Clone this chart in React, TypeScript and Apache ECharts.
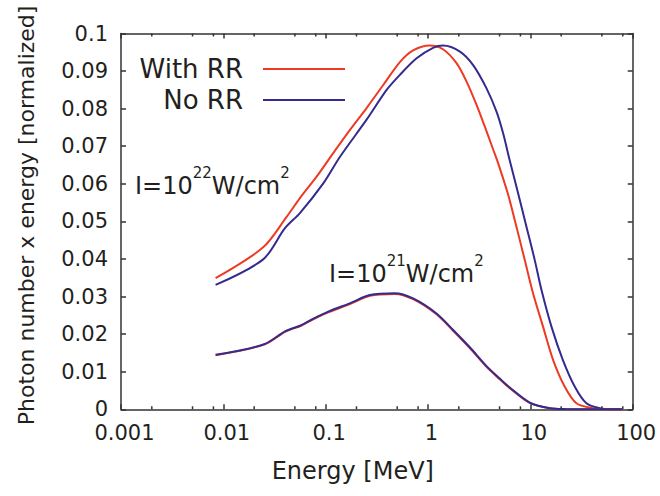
import { useEffect, useRef } from "react";
import * as echarts from "echarts";

// ---- data ----
const xTickLabels = ["0.001", "0.01", "0.1", "1", "10", "100"];
const yTickLabels = ["0", "0.01", "0.02", "0.03", "0.04", "0.05", "0.06", "0.07", "0.08", "0.09", "0.1"];
const xMinorTicks = [0.002, 0.005, 0.008, 0.02, 0.05, 0.08, 0.2, 0.5, 0.8, 2, 5, 8, 20, 50, 80];
const seriesNames = ["With RR", "No RR"];

// I = 1e22 W/cm^2, with radiation reaction
const energyHighRR = [0.0084, 0.0245, 0.0415, 0.056, 0.0815, 0.118, 0.172, 0.25, 0.365, 0.531, 0.715, 1.04, 1.4, 1.9, 2.38, 2.98, 3.59, 4.32, 4.84, 6.05, 7.31, 8.82, 10.62, 13.3, 16.7, 21.7, 28.2, 40.6, 55, 78];
const valueHighRR = [0.0349, 0.0431, 0.0512, 0.0562, 0.0619, 0.0681, 0.0743, 0.0801, 0.0863, 0.0924, 0.0955, 0.0968, 0.0958, 0.0921, 0.0872, 0.081, 0.0752, 0.0692, 0.0655, 0.0572, 0.0486, 0.0397, 0.0309, 0.022, 0.0131, 0.006, 0.0016, 0.0003, 0, 0];

// I = 1e22 W/cm^2, without radiation reaction
const energyHighNoRR = [0.0084, 0.0245, 0.04, 0.056, 0.0947, 0.138, 0.25, 0.394, 0.531, 0.773, 1.12, 1.4, 2.05, 2.76, 3.73, 4.67, 5.41, 6.29, 7.59, 9.16, 11.04, 12.83, 16.07, 20.8, 27.2, 35.3, 47.6, 60, 78];
const valueHighNoRR = [0.0331, 0.0399, 0.0482, 0.0522, 0.0601, 0.0672, 0.077, 0.085, 0.089, 0.0934, 0.0962, 0.0968, 0.0952, 0.0916, 0.0854, 0.0792, 0.0735, 0.0662, 0.0575, 0.0486, 0.0397, 0.0318, 0.022, 0.0131, 0.006, 0.0016, 0.0003, 0, 0];

// I = 1e21 W/cm^2 (both curves almost identical)
const energyLow = [0.0084, 0.025, 0.0405, 0.058, 0.077, 0.106, 0.172, 0.27, 0.474, 0.715, 1.21, 1.76, 2.56, 3.73, 5.02, 6.29, 9.86, 15.5, 22, 78];
const valueLowRR = [0.0144, 0.0172, 0.0207, 0.0223, 0.0241, 0.0258, 0.028, 0.0302, 0.0307, 0.0293, 0.0253, 0.0209, 0.0163, 0.0113, 0.008, 0.0056, 0.0017, 0.0003, 0.0001, 0];
const valueLowNoRR = [0.0145, 0.0173, 0.0208, 0.0224, 0.0242, 0.026, 0.0282, 0.0304, 0.0309, 0.0295, 0.0255, 0.0211, 0.0165, 0.0115, 0.0082, 0.0058, 0.0018, 0.0003, 0.0001, 0];

const zip = (xs: number[], ys: number[]) => xs.map((x, i) => [x, ys[i]]);

const FONT = "DejaVu Sans";
const AX = "#333333";
const TXT = "#231f20";
const RED = "#ee3a22";
const BLUE = "#342b8e";

export default function App() {
  const ref = useRef<HTMLDivElement>(null);
  useEffect(() => {
    document.body.style.margin = "0";
    if (!ref.current) return;
    const chart = echarts.init(ref.current, undefined, { renderer: "svg" });

    const lineSeries = (name: string, data: number[][], color: string) => ({
      type: "line",
      name,
      data,
      symbol: "none",
      showSymbol: false,
      smooth: 0.3,
      lineStyle: { color, width: 2 },
      itemStyle: { color },
      xAxisIndex: 0,
      yAxisIndex: 0,
      z: 4,
    });

    const axisCommon = {
      axisLine: { show: true, onZero: false, lineStyle: { color: AX, width: 1.5 } },
      axisTick: { show: true, inside: true, length: 5, lineStyle: { color: AX, width: 1.5 } },
      splitLine: { show: false },
    };

    const option: any = {
      animation: false,
      backgroundColor: "#ffffff",
      textStyle: { fontFamily: FONT },
      grid: { left: 121, right: 27.3, top: 33.5, bottom: 86.7, containLabel: false, outerBoundsMode: "none" },
      legend: {
        data: seriesNames,
        orient: "vertical",
        align: "right",
        right: 315,
        top: 48.5,
        padding: 0,
        itemGap: -10,
        itemWidth: 82,
        itemHeight: 2,
        icon: "rect",
        selectedMode: false,
        textStyle: { fontSize: 26, fontFamily: FONT, color: TXT, lineHeight: 25, padding: [0, 15, 16, 0] },
      },
      xAxis: [
        {
          type: "log",
          logBase: 10,
          min: 0.001,
          max: 100,
          position: "bottom",
          ...axisCommon,
          axisLabel: {
            fontSize: 21,
            fontFamily: FONT,
            color: TXT,
            margin: 13,
            padding: [0, 0, 0, 7],
            formatter: (v: number) => xTickLabels[Math.round(Math.log10(v)) + 3],
          },
          name: "Energy [MeV]",
          nameLocation: "middle",
          nameGap: 50,
          nameTextStyle: { fontSize: 24, fontFamily: FONT, color: TXT, padding: [0, 48, 0, 0] },
        },
        {
          type: "log",
          logBase: 10,
          min: 0.001,
          max: 100,
          position: "top",
          ...axisCommon,
          axisLabel: { show: false },
        },
      ],
      yAxis: [
        {
          type: "value",
          min: 0,
          max: 0.1,
          interval: 0.01,
          position: "left",
          ...axisCommon,
          axisLabel: {
            fontSize: 21,
            fontFamily: FONT,
            color: TXT,
            margin: 13,
            formatter: (v: number) => yTickLabels[Math.round(v / 0.01)],
          },
          name: "Photon number x energy [normalized]",
          nameLocation: "middle",
          nameRotate: 90,
          nameGap: 84,
          nameTextStyle: { fontSize: 22, fontFamily: FONT, color: TXT, padding: [0, 0, 0, 12] },
        },
        {
          type: "value",
          min: 0,
          max: 0.1,
          interval: 0.01,
          position: "right",
          ...axisCommon,
          axisLabel: { show: false },
        },
      ],
      series: [
        lineSeries(seriesNames[0], zip(energyHighRR, valueHighRR), RED),
        lineSeries(seriesNames[1], zip(energyHighNoRR, valueHighNoRR), BLUE),
        lineSeries(seriesNames[0], zip(energyLow, valueLowRR), RED),
        lineSeries(seriesNames[1], zip(energyLow, valueLowNoRR), BLUE),
        {
          type: "custom",
          name: "minorTicks",
          silent: true,
          clip: false,
          z: 5,
          xAxisIndex: 0,
          yAxisIndex: 0,
          data: xMinorTicks.map((v) => [v, 0]),
          encode: { x: 0, y: 1 },
          renderItem: (_params: any, api: any) => {
            const v = api.value(0);
            const b = api.coord([v, 0]);
            const t = api.coord([v, 0.1]);
            const st = { stroke: AX, lineWidth: 1.5 };
            return {
              type: "group",
              children: [
                { type: "line", shape: { x1: b[0], y1: b[1], x2: b[0], y2: b[1] - 3 }, style: st },
                { type: "line", shape: { x1: t[0], y1: t[1], x2: t[0], y2: t[1] + 3 }, style: st },
              ],
            };
          },
        },
      ],
      graphic: [
        {
          type: "text",
          x: 135,
          y: 165,
          style: {
            text: "{m|I=10}{s|22}{m|W/cm}{s|2}",
            verticalAlign: "top",
            align: "left",
            rich: {
              m: { fontSize: 24, fontFamily: FONT, fill: TXT, lineHeight: 41, verticalAlign: "middle" },
              s: { fontSize: 15, fontFamily: FONT, fill: TXT, lineHeight: 15, verticalAlign: "top" },
            },
          },
        },
        {
          type: "text",
          x: 329,
          y: 253,
          style: {
            text: "{m|I=10}{s|21}{m|W/cm}{s|2}",
            verticalAlign: "top",
            align: "left",
            rich: {
              m: { fontSize: 24, fontFamily: FONT, fill: TXT, lineHeight: 41, verticalAlign: "middle" },
              s: { fontSize: 15, fontFamily: FONT, fill: TXT, lineHeight: 15, verticalAlign: "top" },
            },
          },
        },
      ],
    };

    chart.setOption(option);
    return () => chart.dispose();
  }, []);

  return <div ref={ref} style={{ width: 660, height: 496 }} />;
}
